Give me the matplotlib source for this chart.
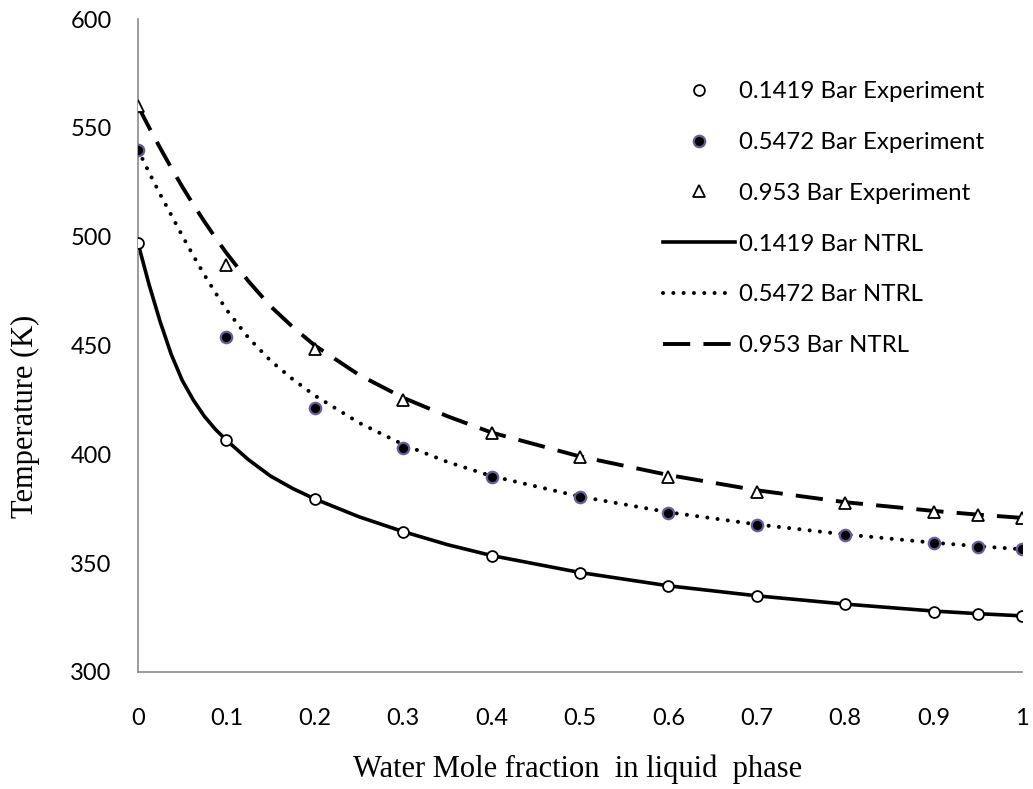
import matplotlib.pyplot as plt

# experimental points
x_exp = [0, 0.1, 0.2, 0.3, 0.4, 0.5, 0.6, 0.7, 0.8, 0.9, 0.95, 1.0]
t_exp_01419 = [497, 406.5, 379.5, 364.5, 353.3, 345.7, 339.6, 335.0, 331.3, 327.7, 326.7, 325.8]
t_exp_05472 = [540, 454, 421.2, 402.8, 389.8, 380.6, 373.2, 367.6, 363.0, 359.2, 357.6, 356.4]
t_exp_0953 = [560, 487, 448.2, 425, 409.7, 398.7, 389.8, 382.9, 377.8, 373.7, 372.2, 370.6]

# NRTL model curves
x_mod = [0, 0.0125, 0.025, 0.0375, 0.05, 0.0625, 0.075, 0.0875, 0.1, 0.125, 0.15,
         0.175, 0.2, 0.25, 0.3, 0.35, 0.4, 0.5, 0.6, 0.7, 0.8, 0.9, 0.95, 1.0]
t_mod_01419 = [497, 478, 461, 446, 434, 425, 417.5, 411.5, 406.5, 397.5, 390,
               384.3, 379.5, 371.3, 364.5, 358.5, 353.5, 345.7, 339.6, 335.0, 331.2,
               328.0, 326.8, 325.8]
t_mod_05472 = [540, 529.5, 519.5, 510, 500.5, 491.3, 482.5, 474.3, 466.5, 453.5, 443,
               434.5, 427, 414.5, 404.5, 396.5, 390, 380.6, 373.4, 367.8, 363.2,
               359.4, 357.8, 356.4]
t_mod_0953 = [560, 550.2, 540.8, 531.7, 523, 514.8, 507, 499.6, 492.5, 479.5, 468,
              458.5, 450, 436.5, 426, 417.5, 410, 399, 390.5, 383.5, 378,
              374, 372.3, 370.8]

labels_exp = ['0.1419 Bar Experiment', '0.5472 Bar Experiment', '0.953 Bar Experiment']
labels_mod = ['0.1419 Bar NTRL', '0.5472 Bar NTRL', '0.953 Bar NTRL']

fig = plt.figure(figsize=(10.33, 7.89), dpi=100)
ax = fig.add_axes([0.1336, 0.1483, 0.8558, 0.8276])

l1, = ax.plot(x_mod, t_mod_01419, color='black', lw=2.6, zorder=2)
l2, = ax.plot(x_mod, t_mod_05472, color='black', lw=2.9,
              linestyle=(0, (0.01, 2.55)), dash_capstyle='round', zorder=2)
l3, = ax.plot(x_mod, t_mod_0953, color='black', lw=2.8,
              linestyle=(0, (7, 3.4)), zorder=2)

m1, = ax.plot(x_exp, t_exp_01419, 'o', ms=7.8, mfc='white', mec='black', mew=1.3, zorder=3)
m2, = ax.plot(x_exp, t_exp_05472, 'o', ms=8.2, mfc='black', mec='#6b5b9a', mew=1.6, zorder=3)
m3, = ax.plot(x_exp, t_exp_0953, '^', ms=8.8, mfc='white', mec='black', mew=1.3, zorder=3)

ax.set_xlim(0, 1)
ax.set_ylim(300, 600)
ax.set_xticks([0, 0.1, 0.2, 0.3, 0.4, 0.5, 0.6, 0.7, 0.8, 0.9, 1])
ax.set_xticklabels(['0', '0.1', '0.2', '0.3', '0.4', '0.5', '0.6', '0.7', '0.8', '0.9', '1'])
ax.set_yticks([300, 350, 400, 450, 500, 550, 600])

for s in ['top', 'right']:
    ax.spines[s].set_visible(False)
for s in ['left', 'bottom']:
    ax.spines[s].set_color('#8a8a8a')
    ax.spines[s].set_linewidth(1.2)

ax.tick_params(length=0, labelsize=17)
ax.tick_params(axis='y', pad=19)
ax.tick_params(axis='x', pad=26)
for lab in ax.get_xticklabels() + ax.get_yticklabels():
    lab.set_fontfamily('Lato')

ax.set_xlabel('Water Mole fraction  in liquid  phase', fontsize=22, family='Liberation Serif')
ax.set_ylabel('Temperature (K)', fontsize=22, family='Liberation Serif')
ax.xaxis.set_label_coords(0.497, -0.127)
ax.yaxis.set_label_coords(-0.111, 0.392)

leg = fig.legend([m1, m2, m3, l1, l2, l3], labels_exp + labels_mod,
                 loc='upper left', bbox_to_anchor=(0.642, 0.897),
                 frameon=False, prop={'family': 'Lato', 'size': 17.3},
                 handlelength=2.97, handletextpad=0.2, labelspacing=1.24,
                 borderpad=0, borderaxespad=0)

fig.savefig('out.png', dpi=100)
